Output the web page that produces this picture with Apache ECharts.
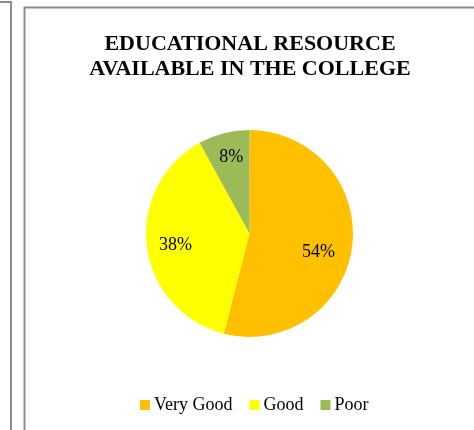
<!DOCTYPE html>
<html><head><meta charset="utf-8">
<script src="https://cdn.jsdelivr.net/npm/echarts@6/dist/echarts.min.js"></script>
<style>html,body{margin:0;padding:0;background:#fff}#c{width:474px;height:430px}</style>
</head><body><div id="c"></div>
<script>
const titleLines = ['EDUCATIONAL RESOURCE', 'AVAILABLE IN THE COLLEGE'];
const categories = ['Very Good', 'Good', 'Poor'];
const values = [54, 38, 8];
const colors = ['#FFC000', '#FFFF00', '#9BBB59'];

const chart = echarts.init(document.getElementById('c'));
const CX = 249.5, CY = 233.5, R = 103.5;
const labelOffsets = [[-8, 9], [3, 2], [1, -1]];
const data = categories.map((n, i) => ({ name: n, value: values[i], itemStyle: { color: colors[i] } }));
const labelData = categories.map((n, i) => ({ name: n, value: values[i], label: { offset: labelOffsets[i] } }));
const serif = "'Liberation Serif','Times New Roman',serif";
chart.setOption({
  animation: false,
  title: {
    text: titleLines.join('\n'), left: 245, textAlign: 'center', top: 27,
    textStyle: { fontFamily: serif, fontSize: 22, fontWeight: 'bold', color: '#000', lineHeight: 25 }
  },
  legend: {
    data: categories, bottom: 11, left: 135, itemWidth: 10, itemHeight: 10, itemGap: 17,
    icon: 'rect',
    textStyle: { fontFamily: serif, fontSize: 18, color: '#000', padding: [0, 0, 0, -1] }
  },
  graphic: [
    { type: 'rect', silent: true, shape: { x: 24.5, y: 7.5, width: 470, height: 440 }, style: { fill: 'none', stroke: '#8c8c8c', lineWidth: 2 } },
    { type: 'polyline', silent: true, shape: { points: [[-5, 2], [11, 2], [11, 440]] }, style: { fill: 'none', stroke: '#8c8c8c', lineWidth: 2 } }
  ],
  series: [
    {
      type: 'pie', center: [CX, CY], radius: [0, R], startAngle: 90, clockwise: true,
      label: { show: false }, labelLine: { show: false }, data: data,
      itemStyle: { borderWidth: 0 }
    },
    {
      type: 'pie', center: [CX, CY], radius: [R * 0.44, R], startAngle: 90, clockwise: true, silent: true,
      itemStyle: { color: 'rgba(0,0,0,0)' }, legendHoverLink: false,
      label: { show: true, position: 'inside', formatter: '{d}%', fontFamily: serif, fontSize: 18, color: '#000' },
      labelLine: { show: false }, data: labelData
    }
  ]
});
</script></body></html>
